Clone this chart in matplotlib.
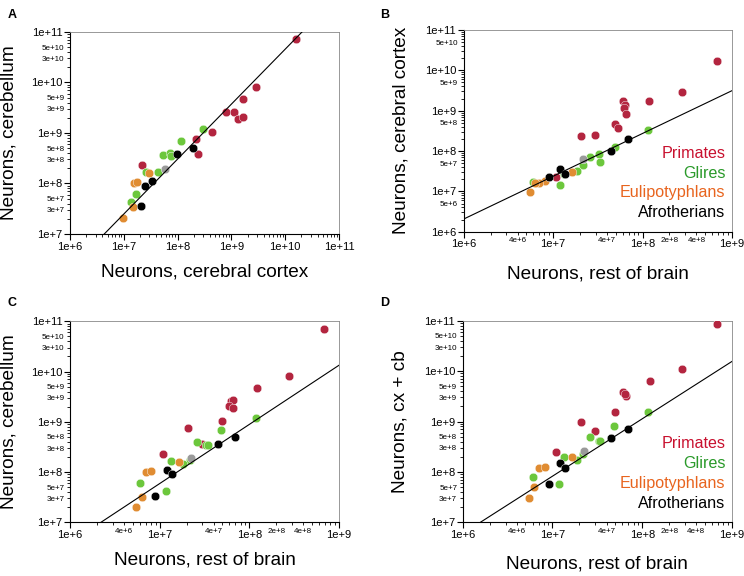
import matplotlib
matplotlib.use("Agg")
import matplotlib.pyplot as plt
import numpy as np
from matplotlib.ticker import FixedLocator, FuncFormatter

plt.rcParams['font.family'] = ['Liberation Sans', 'DejaVu Sans']

RED = '#b3253f'
GREEN = '#6cc73c'
ORANGE = '#e08c32'
BLACK = '#000000'
GRAY = '#9a9a9a'

# panel A: cerebral cortex (x) vs cerebellum (y)
a_prim_x = [1.57e10, 2.84e9, 1.67e9, 7.9e8, 1.12e9, 1.33e9, 1.65e9, 4.3e8, 2.24e8, 2.4e8, 2.2e7]
a_prim_y = [7.2e10, 8.1e9, 4.7e9, 2.65e9, 2.58e9, 1.9e9, 2.1e9, 1.05e9, 7.7e8, 3.77e8, 2.28e8]
a_glir_x = [3.03e8, 1.17e8, 5.3e7, 7.2e7, 7.7e7, 4.3e7, 2.6e7, 1.68e7, 1.36e7]
a_glir_y = [1.2e9, 6.9e8, 3.6e8, 3.94e8, 3.5e8, 1.7e8, 1.66e8, 6.3e7, 4.3e7]
a_euli_x = [2.9e7, 1.58e7, 1.73e7, 1.51e7, 9.6e6]
a_euli_y = [1.58e8, 1.03e8, 1.08e8, 3.4e7, 2.1e7]
a_afro_x = [1.95e8, 9.8e7, 3.4e7, 2.5e7, 2.1e7]
a_afro_y = [5.1e8, 3.77e8, 1.1e8, 9.1e7, 3.5e7]
a_other_x = [5.9e7]
a_other_y = [1.93e8]
a_fit = (1.088, -0.221)  # slope, intercept in log10 space

# panel B: rest of brain (x) vs cerebral cortex (y)
b_prim_x = [6.8e8, 2.74e8, 1.19e8, 6.0e7, 6.43e7, 6.15e7, 6.47e7, 4.88e7, 5.3e7, 2.92e7, 2.05e7, 1.09e7]
b_prim_y = [1.7e10, 2.9e9, 1.77e9, 1.74e9, 1.36e9, 1.14e9, 8.1e8, 4.67e8, 3.7e8, 2.54e8, 2.35e8, 2.3e7]
b_glir_x = [1.16e8, 4.88e7, 3.26e7, 3.37e7, 2.56e7, 2.14e7, 1.85e7, 1.34e7, 1.18e7, 5.96e6]
b_glir_y = [3.25e8, 1.23e8, 8.3e7, 5.5e7, 7.2e7, 4.4e7, 3.2e7, 2.7e7, 1.44e7, 1.74e7]
b_euli_x = [1.63e7, 8.05e6, 6.9e6, 6.3e6, 5.47e6]
b_euli_y = [2.96e7, 1.8e7, 1.58e7, 1.64e7, 9.6e6]
b_afro_x = [6.9e7, 4.4e7, 1.2e7, 1.35e7, 8.9e6]
b_afro_y = [2.02e8, 1.02e8, 3.58e7, 2.7e7, 2.26e7]
b_other_x = [2.18e7]
b_other_y = [6.3e7]
b_fit = (1.061, -0.052)

# panel C: rest of brain (x) vs cerebellum (y)
c_prim_x = [6.8e8, 2.77e8, 1.21e8, 6.2e7, 6.5e7, 6.0e7, 6.5e7, 4.9e7, 2.07e7, 2.95e7, 1.1e7]
c_prim_y = [7.1e10, 8.0e9, 4.7e9, 2.56e9, 2.68e9, 2.03e9, 1.88e9, 1.05e9, 7.5e8, 3.6e8, 2.3e8]
c_glir_x = [1.18e8, 4.85e7, 2.58e7, 3.3e7, 3.42e7, 1.35e7, 2.2e7, 1.82e7, 6.0e6, 1.19e7]
c_glir_y = [1.19e9, 6.9e8, 3.97e8, 3.5e8, 3.5e8, 1.64e8, 1.77e8, 1.43e8, 6.15e7, 4.2e7]
c_euli_x = [1.65e7, 7.0e6, 8.1e6, 6.3e6, 5.5e6]
c_euli_y = [1.61e8, 1.0e8, 1.05e8, 3.24e7, 2.05e7]
c_afro_x = [6.9e7, 4.5e7, 1.22e7, 1.39e7, 8.9e6]
c_afro_y = [4.9e8, 3.6e8, 1.1e8, 9.0e7, 3.4e7]
c_other_x = [2.25e7]
c_other_y = [1.9e8]
c_fit = (1.177, -0.468)

# panel D: rest of brain (x) vs cortex + cerebellum (y)
d_prim_x = [6.8e8, 2.77e8, 1.21e8, 6.1e7, 6.6e7, 6.4e7, 4.93e7, 2.08e7, 2.98e7, 1.09e7]
d_prim_y = [8.7e10, 1.1e10, 6.5e9, 3.85e9, 3.25e9, 3.5e9, 1.54e9, 1.0e9, 6.4e8, 2.52e8]
d_glir_x = [1.17e8, 4.9e7, 2.6e7, 3.33e7, 3.41e7, 2.17e7, 1.35e7, 1.86e7, 6.07e6, 1.19e7]
d_glir_y = [1.52e9, 8.3e8, 4.85e8, 4.2e8, 4.05e8, 2.3e8, 1.98e8, 1.75e8, 8.05e7, 5.75e7]
d_euli_x = [1.65e7, 7.0e6, 8.2e6, 6.3e6, 5.5e6]
d_euli_y = [1.95e8, 1.2e8, 1.27e8, 5.0e7, 3.1e7]
d_afro_x = [6.95e7, 4.45e7, 1.22e7, 1.39e7, 9.1e6]
d_afro_y = [7.1e8, 4.7e8, 1.52e8, 1.2e8, 5.75e7]
d_other_x = [2.23e7]
d_other_y = [2.6e8]
d_fit = (1.139, -0.058)

groups = ['Primates', 'Glires', 'Eulipotyphlans', 'Afrotherians']
group_colors = ['#c8102e', '#2a9a2a', '#e8641e', '#000000']


def sci(v):
    e = int(np.floor(np.log10(v) + 1e-9))
    m = int(round(v / 10 ** e))
    return f'{m}e+{e}'


def setup(ax, xlim, ylim, xminor_lab, yminor_lab, xlabel, ylabel):
    ax.set_xscale('log')
    ax.set_yscale('log')
    ax.set_xlim(*xlim)
    ax.set_ylim(*ylim)
    for axis, lim, minor_lab in [(ax.xaxis, xlim, xminor_lab), (ax.yaxis, ylim, yminor_lab)]:
        lo, hi = int(round(np.log10(lim[0]))), int(round(np.log10(lim[1])))
        majors = [10.0 ** e for e in range(lo, hi + 1)]
        minors = [m * 10.0 ** e for e in range(lo, hi) for m in range(2, 10)]
        axis.set_major_locator(FixedLocator(majors))
        axis.set_minor_locator(FixedLocator(minors))
        axis.set_major_formatter(FuncFormatter(lambda v, p: sci(v)))
        labs = set(minor_lab)
        axis.set_minor_formatter(FuncFormatter(
            lambda v, p, labs=labs: sci(v) if sci(v) in labs else ''))
    ax.tick_params(which='major', length=4, width=0.8, labelsize=8, pad=1.5,
                   top=False, right=False)
    ax.tick_params(which='minor', length=2.5, width=0.6, labelsize=5.8, pad=1.5,
                   top=False, right=False)
    for s in ['top', 'right']:
        ax.spines[s].set_color('#888888')
        ax.spines[s].set_linewidth(0.6)
    ax.set_xlabel(xlabel, fontsize=13.7)
    ax.set_ylabel(ylabel, fontsize=13.7)


def draw(ax, data, fit, xlim):
    cols = [RED, GREEN, ORANGE, BLACK, GRAY]
    for (x, y), c in zip(data, cols):
        ax.scatter(x, y, s=38, color=c, edgecolors='white', linewidths=0.3, zorder=3)
    xs = np.logspace(np.log10(xlim[0]), np.log10(xlim[1]), 50)
    ax.plot(xs, 10 ** (fit[1] + fit[0] * np.log10(xs)), color='black', lw=0.8, zorder=4)


fig = plt.figure(figsize=(7.44, 5.76), dpi=100)
axA = fig.add_axes([0.0941, 0.5938, 0.3615, 0.3507])
axB = fig.add_axes([0.6232, 0.5977, 0.3607, 0.3502])
axC = fig.add_axes([0.0941, 0.0932, 0.3615, 0.3490])
axD = fig.add_axes([0.6219, 0.0932, 0.3620, 0.3500])

y_minor_37 = ['3e+7', '5e+7', '3e+8', '5e+8', '3e+9', '5e+9', '3e+10', '5e+10']
x_minor_rob = ['4e+6', '4e+7', '2e+8', '4e+8']

draw(axA, [(a_prim_x, a_prim_y), (a_glir_x, a_glir_y), (a_euli_x, a_euli_y),
           (a_afro_x, a_afro_y), (a_other_x, a_other_y)], a_fit, (1e6, 1e11))
setup(axA, (1e6, 1e11), (1e7, 1e11), [], y_minor_37,
      'Neurons, cerebral cortex', 'Neurons, cerebellum')

draw(axB, [(b_prim_x, b_prim_y), (b_glir_x, b_glir_y), (b_euli_x, b_euli_y),
           (b_afro_x, b_afro_y), (b_other_x, b_other_y)], b_fit, (1e6, 1e9))
setup(axB, (1e6, 1e9), (1e6, 1e11), x_minor_rob, ['5e+6', '5e+7', '5e+8', '5e+9', '5e+10'],
      'Neurons, rest of brain', 'Neurons, cerebral cortex')

draw(axC, [(c_prim_x, c_prim_y), (c_glir_x, c_glir_y), (c_euli_x, c_euli_y),
           (c_afro_x, c_afro_y), (c_other_x, c_other_y)], c_fit, (1e6, 1e9))
setup(axC, (1e6, 1e9), (1e7, 1e11), x_minor_rob, y_minor_37,
      'Neurons, rest of brain', 'Neurons, cerebellum')

draw(axD, [(d_prim_x, d_prim_y), (d_glir_x, d_glir_y), (d_euli_x, d_euli_y),
           (d_afro_x, d_afro_y), (d_other_x, d_other_y)], d_fit, (1e6, 1e9))
setup(axD, (1e6, 1e9), (1e7, 1e11), x_minor_rob, y_minor_37,
      'Neurons, rest of brain', 'Neurons, cx + cb')

for ax in [axA, axC]:
    ax.xaxis.set_label_coords(0.5, -0.145)
    ax.yaxis.set_label_coords(-0.197, 0.5)
for ax in [axB, axD]:
    ax.xaxis.set_label_coords(0.5, -0.165)
    ax.yaxis.set_label_coords(-0.2, 0.5)

for ax in [axB, axD]:
    for i, (g, c) in enumerate(zip(groups, group_colors)):
        ax.text(0.975, 0.39 - i * 0.099, g, color=c, fontsize=11.6,
                ha='right', va='center', transform=ax.transAxes)

for lab, (x, y) in zip(['A', 'B', 'C', 'D'],
                       [(0.01, 0.985), (0.511, 0.985), (0.01, 0.485), (0.511, 0.485)]):
    fig.text(x, y, lab, fontsize=9, fontweight='bold', ha='left', va='top')

plt.savefig('out.png', dpi=100)
